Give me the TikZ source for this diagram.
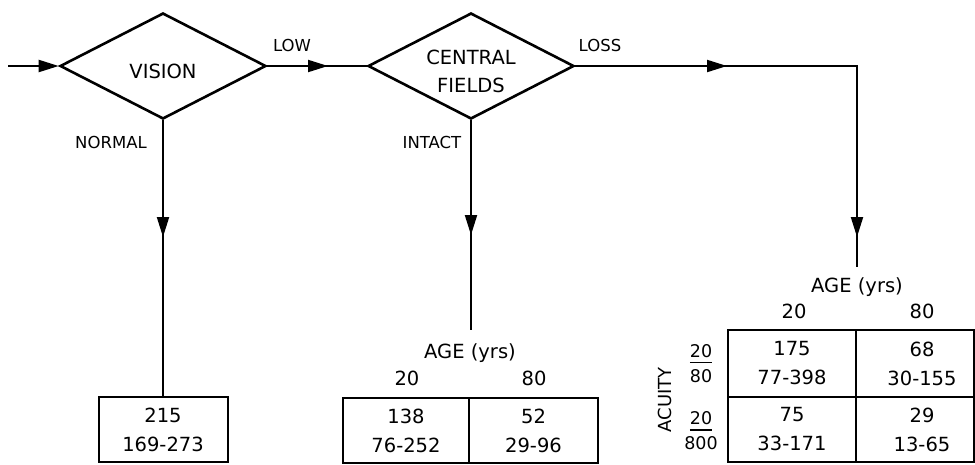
\documentclass[tikz,border=0pt]{standalone}
\usepackage{fontspec}
\setmainfont{DejaVu Sans}
\usetikzlibrary{shapes.geometric,arrows.meta}
\newcommand\mybar[1]{\setbox0\hbox{#1}\rlap{\rule[-6pt]{\wd0}{1.8pt}}\box0}
\begin{document}
\begin{tikzpicture}[x=1pt,y=-1pt,
  dia/.style={shape=diamond,draw,line width=2.6pt,minimum width=206pt,minimum height=106pt,inner sep=0pt},
  txt/.style={inner sep=0pt,font=\fontsize{19.5}{28}\selectfont},
  lbl/.style={inner sep=0pt,font=\fontsize{16.5}{20}\selectfont},
  frac/.style={inner sep=0pt,align=center,font=\fontsize{17.5}{25}\selectfont},
  cell/.style={draw,line width=2pt,inner sep=0pt,align=center,font=\fontsize{19.5}{29}\selectfont},
  conn/.style={line width=2pt},
  arr/.style={line width=2pt,-{Triangle[length=20pt,width=12pt]}},
]
\useasboundingbox (0,0) rectangle (975,464);

% decision diamonds
\node[dia] (vision) at (163,66) {};
\node[txt,anchor=base] (visiont) at (163,78) {VISION};
\node[dia] (central) at (471,66) {};
\node[txt,anchor=base] (centralt) at (471,64) {CENTRAL};
\node[txt,anchor=base] (fieldst) at (471,92) {FIELDS};

% branch labels
\node[lbl,anchor=base] (low) at (292,51.5) {LOW};
\node[lbl,anchor=base] (loss) at (600,51.5) {LOSS};
\node[lbl,anchor=base] (normal) at (111,148) {NORMAL};
\node[lbl,anchor=base] (intact) at (432,148) {INTACT};

% left result box
\node[cell,minimum width=129pt,minimum height=65pt] (nbox) at (163,429.5) {215\\169-273};

% middle table
\node[txt,anchor=base] (agemid) at (470,358) {AGE (yrs)};
\node[txt,anchor=base] (m20) at (407,385) {20};
\node[txt,anchor=base] (m80) at (534,385) {80};
\node[cell,minimum width=126pt,minimum height=65pt] (mc1) at (406,430.5) {138\\76-252};
\node[cell,minimum width=129pt,minimum height=65pt] (mc2) at (533.5,430.5) {52\\29-96};

% right table
\node[txt,anchor=base] (ageright) at (857,292) {AGE (yrs)};
\node[txt,anchor=base] (r20) at (794,318) {20};
\node[txt,anchor=base] (r80) at (922,318) {80};
\node[cell,minimum width=128pt,minimum height=67pt] (rc1) at (792,363.5) {175\\77-398};
\node[cell,minimum width=128pt,minimum height=65pt] (rc3) at (792,429.5) {75\\33-171};
\node[cell,minimum width=118pt,minimum height=67pt] (rc2) at (915,363.5) {};
\node[cell,minimum width=118pt,minimum height=65pt] (rc4) at (915,429.5) {};
\node[cell,draw=none] (rt2) at (922,363.5) {68\\30-155};
\node[cell,draw=none] (rt4) at (922,429.5) {29\\13-65};
\node[frac] (fa) at (701,363.5) {\mybar{20}\\80};
\node[frac] (fb) at (701,431) {\mybar{20}\\800};
\node[txt,rotate=90,font=\fontsize{18}{20}\selectfont] (acuity) at (665,400) {ACUITY};

% connectors
\coordinate (in) at (8,66);
\draw[arr] (in) -- (vision.west);

\coordinate (lowtip) at (328,66);
\draw[conn] (vision.east) -- (central.west);
\draw[arr] (vision.east) -- (lowtip);

\coordinate (losstip) at (727,66);
\coordinate (losscorner) at (857,66);
\coordinate (lossdown) at (857,237);
\coordinate (lossend) at (857,267);
\draw[conn] (central.east) -- (losscorner) -- (lossend);
\draw[arr] (central.east) -- (losstip);
\draw[arr] (losscorner) -- (lossdown);

\coordinate (ntip) at (163,237);
\draw[conn] (vision.south) -- (nbox.north);
\draw[arr] (vision.south) -- (ntip);

\coordinate (itip) at (471,235);
\coordinate (iend) at (471,330);
\draw[conn] (central.south) -- (iend);
\draw[arr] (central.south) -- (itip);
\end{tikzpicture}
\end{document}
